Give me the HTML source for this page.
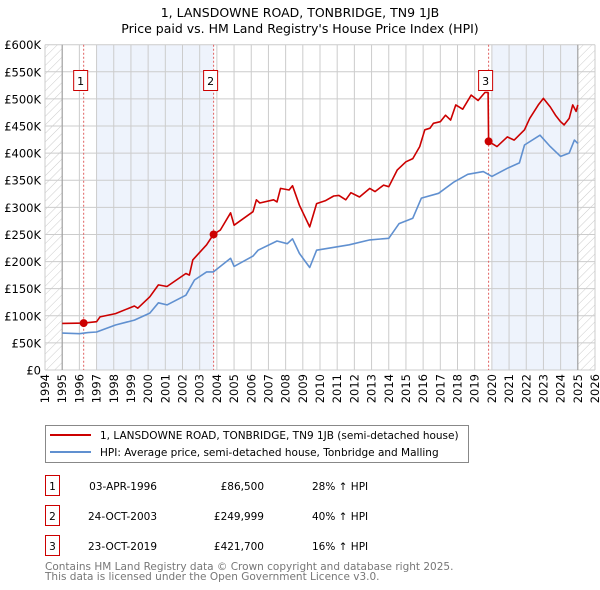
<!DOCTYPE html>
<html><head><meta charset="utf-8">
<style>
body{margin:0;background:#fff;font-family:"DejaVu Sans","Liberation Sans",sans-serif;}
#wrap{position:relative;width:600px;height:590px;overflow:hidden;}
svg text{font-family:"DejaVu Sans","Liberation Sans",sans-serif;}
</style></head><body>
<div id="wrap">
<svg id="chart" width="600" height="590" xmlns="http://www.w3.org/2000/svg">
<defs>
<pattern id="hatch" patternUnits="userSpaceOnUse" width="6" height="6" patternTransform="rotate(45)">
<line x1="0" y1="0" x2="0" y2="6" stroke="#ccc" stroke-width="1"/>
</pattern>
</defs>
<text x="300" y="17" text-anchor="middle" font-size="12.5" fill="#000">1, LANSDOWNE ROAD, TONBRIDGE, TN9 1JB</text>
<text x="300" y="33" text-anchor="middle" font-size="12.5" fill="#000">Price paid vs. HM Land Registry's House Price Index (HPI)</text>
<g id="plot"></g>
<g>
<rect x="45.5" y="425.5" width="423" height="37" fill="#fff" stroke="#888"/>
<line x1="50" y1="435" x2="91" y2="435" stroke="#cc0000" stroke-width="2"/>
<text x="100" y="439" font-size="10.5">1, LANSDOWNE ROAD, TONBRIDGE, TN9 1JB (semi-detached house)</text>
<line x1="50" y1="452" x2="91" y2="452" stroke="#6090d0" stroke-width="2"/>
<text x="100" y="456" font-size="10.5">HPI: Average price, semi-detached house, Tonbridge and Malling</text>
</g>
<g id="table" font-size="10.5"></g>
<text x="45" y="570" font-size="10.5" fill="#777">Contains HM Land Registry data © Crown copyright and database right 2025.</text>
<text x="45" y="580" font-size="10.5" fill="#777">This data is licensed under the Open Government Licence v3.0.</text>
</svg>
</div>
<script>
var hpiYears=[1995,1996,1996.5,1997,1998.1,1999.2,2000.1,2000.6,2001.1,2002.2,2002.7,2003.4,2003.8,2004.8,2005.0,2006.1,2006.4,2007.5,2008.1,2008.4,2008.8,2009.4,2009.8,2011.7,2012.9,2014.0,2014.6,2015.4,2015.9,2016.9,2017.8,2018.6,2019.5,2020.0,2020.9,2021.6,2021.9,2022.8,2023.4,2024.0,2024.5,2024.8,2025.0];
var hpiValues=[68,67,69,70,83,92,105,124,120,138,166,181,181,206,191,210,221,238,233,242,215,189,221,231,240,243,270,280,317,326,347,361,366,357,372,382,415,433,412,394,400,424,418];
var priceYears=[1995,1996.25,1997,1997.2,1998.1,1999.2,1999.4,2000.1,2000.6,2001.1,2002.2,2002.4,2002.6,2003.4,2003.8,2004.2,2004.8,2005.0,2006.1,2006.3,2006.5,2007.3,2007.5,2007.7,2008.2,2008.4,2008.8,2009.4,2009.8,2010.3,2010.8,2011.1,2011.5,2011.8,2012.3,2012.9,2013.2,2013.7,2014.0,2014.5,2015.0,2015.4,2015.8,2016.1,2016.4,2016.6,2017.0,2017.3,2017.6,2017.9,2018.3,2018.8,2019.2,2019.6,2019.78,2019.81,2020.3,2020.9,2021.3,2021.9,2022.2,2022.7,2023.0,2023.4,2023.7,2024.0,2024.2,2024.5,2024.7,2024.9,2025.0];
var priceValues=[86,86.5,89,98,104,118,114,135,157,154,178,175,203,231,250,258,290,267,292,314,308,314,310,335,332,340,304,264,307,312,321,322,314,327,319,335,329,341,338,369,384,390,412,443,446,455,458,470,461,489,481,507,497,512,512,421.7,412,430,424,443,464,489,501,485,470,458,452,464,489,477,489];
var saleLabels=["1","2","3"];
var saleYears=[1996.25,2003.81,2019.81];
var salePrices=[86.5,249.999,421.7];
var saleDates=["03-APR-1996","24-OCT-2003","23-OCT-2019"];
var salePriceText=["£86,500","£249,999","£421,700"];
var saleHpiText=["28% ↑ HPI","40% ↑ HPI","16% ↑ HPI"];
var yTicks=[0,50,100,150,200,250,300,350,400,450,500,550,600];
var yTickLabels=["£0","£50K","£100K","£150K","£200K","£250K","£300K","£350K","£400K","£450K","£500K","£550K","£600K"];
var xTicks=[1994,1995,1996,1997,1998,1999,2000,2001,2002,2003,2004,2005,2006,2007,2008,2009,2010,2011,2012,2013,2014,2015,2016,2017,2018,2019,2020,2021,2022,2023,2024,2025,2026];

var NS="http://www.w3.org/2000/svg";
var X0=45,X1=595,Y0=370,Y1=44.7;
function xs(y){return X0+(y-1994)/(2026-1994)*(X1-X0);}
function ys(v){return Y0-v/600*(Y0-Y1);}
var plot=document.getElementById('plot');
function mk(tag,attrs,parent){var e=document.createElementNS(NS,tag);for(var k in attrs)e.setAttribute(k,attrs[k]);(parent||plot).appendChild(e);return e;}

var bg=mk('rect',{x:X0,y:Y1,width:X1-X0,height:Y0-Y1,fill:'#fff'});


var s1=mk('rect',{x:xs(1997),y:Y1,width:xs(2003.81)-xs(1997),height:Y0-Y1,fill:'#eef3fc'});


var s2=mk('rect',{x:xs(2020),y:Y1,width:xs(2025)-xs(2020),height:Y0-Y1,fill:'#eef3fc'});


var h1=mk('rect',{x:X0,y:Y1,width:xs(1995)-X0,height:Y0-Y1,fill:'url(#hatch)'});


var h2=mk('rect',{x:xs(2025),y:Y1,width:X1-xs(2025),height:Y0-Y1,fill:'url(#hatch)'});



for(var i=0;i<yTicks.length;i++){
 var g=mk('line',{x1:X0,x2:X1,y1:ys(yTicks[i]),y2:ys(yTicks[i]),stroke:'#ccc','stroke-width':1});
 
 
 var t=mk('text',{x:41,y:ys(yTicks[i])+4.5,'text-anchor':'end','font-size':'11.5',fill:'#000'});
 t.textContent=yTickLabels[i];
 
 
}
for(var i=0;i<xTicks.length;i++){
 var x=xs(xTicks[i]);
 var g=mk('line',{x1:x,x2:x,y1:Y1,y2:Y0,stroke:'#ccc','stroke-width':1});
 
 
 var t=mk('text',{x:0,y:0,'text-anchor':'end','font-size':'11.5',fill:'#000',transform:'translate('+(x+4)+',374) rotate(-90)'});
 t.textContent=xTicks[i];
 
 
}
var ax1=mk('line',{x1:xs(1995),x2:xs(1995),y1:Y1,y2:Y0,stroke:'#999','stroke-width':1});


var ax2=mk('line',{x1:xs(2025),x2:xs(2025),y1:Y1,y2:Y0,stroke:'#999','stroke-width':1});



for(var i=0;i<saleYears.length;i++){
 var x=xs(saleYears[i]);
 var l=mk('line',{x1:x,x2:x,y1:Y1,y2:Y0,stroke:'#e06060','stroke-width':1,'stroke-dasharray':'2,2'});
 
 
}

function path(xa,va,color,name){
 var d='';
 for(var i=0;i<xa.length;i++){d+=(i?'L':'M')+xs(xa[i]).toFixed(1)+','+ys(va[i]).toFixed(1);}
 var p=mk('path',{d:d,fill:'none',stroke:color,'stroke-width':1.6,'stroke-linejoin':'round'});
 
 
}
path(hpiYears,hpiValues,'#6090d0','hpi-line');
path(priceYears,priceValues,'#cc0000','price-paid-line');

for(var i=0;i<saleYears.length;i++){
 var c=mk('circle',{cx:xs(saleYears[i]),cy:ys(salePrices[i]),r:4,fill:'#cc0000'});
 
 
 var bx=xs(saleYears[i])-10;
 var r=mk('rect',{x:bx,y:70.5,width:14,height:20,fill:'#fff',stroke:'#cc0000','stroke-width':1});
 
 
 var t=mk('text',{x:bx+7,y:85,'text-anchor':'middle','font-size':'11',fill:'#000'});
 t.textContent=saleLabels[i];
 
 
}

var tbl=document.getElementById('table');
for(var i=0;i<saleLabels.length;i++){
 var y=476+i*30;
 var r=mk('rect',{x:45.5,y:y-0.5,width:14,height:20,fill:'#fff',stroke:'#cc0000'},tbl);
 
 
 var t=mk('text',{x:52.5,y:y+14,'text-anchor':'middle'},tbl);
 t.textContent=saleLabels[i];
 
 
 var d=mk('text',{x:157,y:y+14,'text-anchor':'end'},tbl);
 d.textContent=saleDates[i];
 
 
 var p=mk('text',{x:264,y:y+14,'text-anchor':'end'},tbl);
 p.textContent=salePriceText[i];
 
 
 var h=mk('text',{x:312,y:y+14},tbl);
 h.textContent=saleHpiText[i];
 
 
}
</script>
</body></html>
